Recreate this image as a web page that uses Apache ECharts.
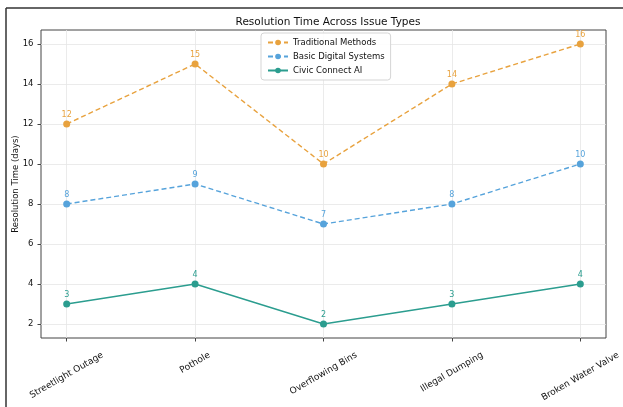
<!DOCTYPE html>
<html>
<head>
<meta charset="utf-8">
<script src="https://cdn.jsdelivr.net/npm/echarts@6/dist/echarts.min.js"></script>
<style>
html,body{margin:0;padding:0;background:#fff;}
#chart{width:623px;height:407px;}
</style>
</head>
<body>
<div id="chart"></div>
<script>
const categories = ["Streetlight Outage", "Pothole", "Overflowing Bins", "Illegal Dumping", "Broken Water Valve"];
const traditional = [12, 15, 10, 14, 16];
const basicDigital = [8, 9, 7, 8, 10];
const civicAI = [3, 4, 2, 3, 4];
const yTicks = [2, 4, 6, 8, 10, 12, 14, 16];
const xTicks = [0, 1, 2, 3, 4];
const seriesNames = ["Traditional Methods", "Basic Digital Systems", "Civic Connect AI"];

const FONT = "DejaVu Sans";
const colors = ["#e8a23e", "#56a3db", "#2b9d8f"];

const chart = echarts.init(document.getElementById('chart'), null, {renderer: 'canvas'});

function mkSeries(name, vals, color, dashed) {
  return {
    name: name,
    type: 'line',
    data: vals.map((v, i) => [i, v]),
    symbol: 'circle',
    symbolSize: 7,
    color: color,
    lineStyle: {color: color, width: 1.4, type: dashed ? [5, 3] : 'solid'},
    itemStyle: {color: color},
    label: {show: true, position: 'top', distance: 2, color: color, fontSize: 8, fontFamily: FONT,
      formatter: p => String(p.value[1])},
    emphasis: {disabled: true},
    animation: false,
    z: 3
  };
}

const gridLine = {show: true, lineStyle: {color: '#e6e6e6', width: 0.8, type: 'solid'}};

const option = {
  animation: false,
  backgroundColor: '#fff',
  title: {
    text: 'Resolution Time Across Issue Types',
    left: 323, top: 12, textAlign: 'center',
    textStyle: {fontFamily: FONT, fontSize: 10.5, fontWeight: 'normal', color: '#111'}
  },
  legend: {
    orient: 'vertical',
    left: 261, top: 33,
    itemWidth: 20, itemHeight: 7, itemGap: 5,
    padding: [5, 6, 5, 6],
    backgroundColor: 'rgba(255,255,255,0.9)',
    borderColor: '#d5d5d5', borderWidth: 1, borderRadius: 3,
    textStyle: {fontFamily: FONT, fontSize: 8.5, color: '#111'},
    z: 10,
    data: seriesNames
  },
  grid: {left: 41, right: 17, top: 30, bottom: 69, show: true, borderColor: '#444', borderWidth: 1,
    backgroundColor: 'transparent', containLabel: false, outerBoundsMode: 'none'},
  xAxis: {
    type: 'value', min: -0.2, max: 4.2,
    axisLine: {show: false, onZero: false},
    axisTick: {show: true, customValues: xTicks, length: 3.5, lineStyle: {color: '#444'}},
    axisLabel: {show: false, customValues: xTicks},
    splitLine: gridLine
  },
  yAxis: {
    type: 'value', min: 1.3, max: 16.7,
    name: 'Resolution Time (days)', nameLocation: 'middle', nameGap: 21, nameMoveOverlap: false,
    nameTextStyle: {fontFamily: FONT, fontSize: 8.5, color: '#111'},
    axisLine: {show: false, onZero: false},
    axisTick: {show: true, customValues: yTicks, length: 3.5, lineStyle: {color: '#444'}},
    axisLabel: {customValues: yTicks, fontFamily: FONT, fontSize: 8.5, color: '#111', margin: 7.5},
    splitLine: gridLine
  },
  series: [
    mkSeries(seriesNames[0], traditional, colors[0], true),
    mkSeries(seriesNames[1], basicDigital, colors[1], true),
    mkSeries(seriesNames[2], civicAI, colors[2], false)
  ]
};
chart.setOption(option);

// Rotated x tick labels, centred under each tick (matplotlib-like), placed via axis scales
const ctx = document.createElement('canvas').getContext('2d');
const fs = 9;
ctx.font = fs + 'px "' + FONT + '"';
const ang = Math.PI / 6;
const yBottom = chart.convertToPixel({yAxisIndex: 0}, 1.3);
const graphics = categories.map((c, i) => {
  const x = chart.convertToPixel({xAxisIndex: 0}, xTicks[i]);
  const w = ctx.measureText(c).width;
  const h = fs * 1.15;
  const bh = w * Math.sin(ang) + h * Math.cos(ang);
  return {
    type: 'text', x: x, y: yBottom + 12 + bh / 2, rotation: ang, silent: true,
    style: {text: c, align: 'center', verticalAlign: 'middle', fontFamily: FONT, fontSize: fs, fill: '#111'}
  };
});
// outer frame of the screenshot
graphics.push({type: 'line', silent: true, shape: {x1: 6, y1: 8, x2: 623, y2: 8}, style: {stroke: '#333', lineWidth: 1.5}});
graphics.push({type: 'line', silent: true, shape: {x1: 6, y1: 8, x2: 6, y2: 407}, style: {stroke: '#333', lineWidth: 1.5}});
chart.setOption({graphic: graphics});
</script>
</body>
</html>
